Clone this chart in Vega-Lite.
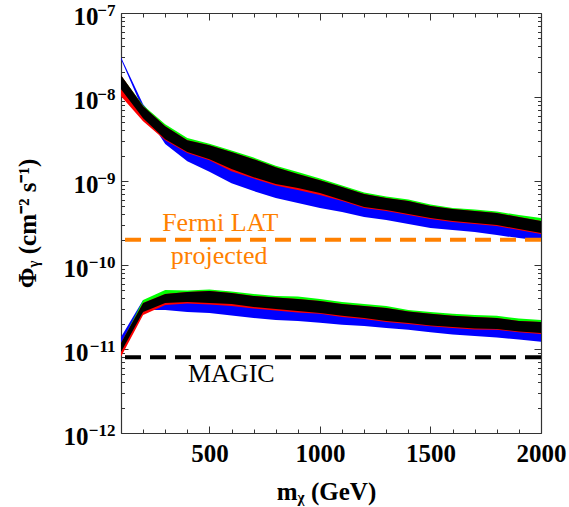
{
  "$schema": "https://vega.github.io/schema/vega-lite/v6.json",
  "width": 420,
  "height": 420,
  "autosize": "none",
  "padding": {"left": 121, "top": 13, "right": 28, "bottom": 74},
  "background": "white",
  "view": {"stroke": null},
  "datasets": {
    "bands": [
      {"grp": "upper", "m": 100, "greenTop": 1.80e-8, "blackTop": 1.82e-8, "blackBot": 1.24e-8, "redBot": 1.02e-8, "blueTop": 2.97e-8, "blueBot": 2.81e-8},
      {"grp": "upper", "m": 200, "greenTop": 7.98e-9, "blackTop": 7.77e-9, "blackBot": 5.60e-9, "redBot": 5.16e-9, "blueTop": 8.21e-9, "blueBot": 6.97e-9},
      {"grp": "upper", "m": 300, "greenTop": 4.75e-9, "blackTop": 4.50e-9, "blackBot": 3.15e-9, "redBot": 3.06e-9, "blueTop": 4.03e-9, "blueBot": 2.75e-9},
      {"grp": "upper", "m": 400, "greenTop": 3.24e-9, "blackTop": 3.06e-9, "blackBot": 2.21e-9, "redBot": 2.15e-9, "blueTop": 2.45e-9, "blueBot": 1.72e-9},
      {"grp": "upper", "m": 500, "greenTop": 2.78e-9, "blackTop": 2.67e-9, "blackBot": 1.82e-9, "redBot": 1.77e-9, "blueTop": 2.03e-9, "blueBot": 1.29e-9},
      {"grp": "upper", "m": 600, "greenTop": 2.30e-9, "blackTop": 2.21e-9, "blackBot": 1.39e-9, "redBot": 1.31e-9, "blueTop": 1.55e-9, "blueBot": 9.4e-10},
      {"grp": "upper", "m": 700, "greenTop": 1.90e-9, "blackTop": 1.82e-9, "blackBot": 1.11e-9, "redBot": 1.07e-9, "blueTop": 1.28e-9, "blueBot": 7.58e-10},
      {"grp": "upper", "m": 800, "greenTop": 1.52e-9, "blackTop": 1.46e-9, "blackBot": 9.19e-10, "redBot": 8.82e-10, "blueTop": 1.02e-9, "blueBot": 6.26e-10},
      {"grp": "upper", "m": 900, "greenTop": 1.28e-9, "blackTop": 1.21e-9, "blackBot": 8.23e-10, "redBot": 7.79e-10, "blueTop": 8.94e-10, "blueBot": 5.46e-10},
      {"grp": "upper", "m": 1000, "greenTop": 1.07e-9, "blackTop": 1.02e-9, "blackBot": 7.18e-10, "redBot": 6.80e-10, "blueTop": 7.79e-10, "blueBot": 4.76e-10},
      {"grp": "upper", "m": 1100, "greenTop": 8.82e-10, "blackTop": 8.46e-10, "blackBot": 5.93e-10, "redBot": 5.77e-10, "blueTop": 6.61e-10, "blueBot": 4.27e-10},
      {"grp": "upper", "m": 1200, "greenTop": 7.28e-10, "blackTop": 6.99e-10, "blackBot": 4.90e-10, "redBot": 4.76e-10, "blueTop": 5.46e-10, "blueBot": 3.72e-10},
      {"grp": "upper", "m": 1300, "greenTop": 6.52e-10, "blackTop": 6.26e-10, "blackBot": 4.51e-10, "redBot": 4.39e-10, "blueTop": 5.03e-10, "blueBot": 3.43e-10},
      {"grp": "upper", "m": 1400, "greenTop": 6.01e-10, "blackTop": 5.77e-10, "blackBot": 4.04e-10, "redBot": 3.93e-10, "blueTop": 4.65e-10, "blueBot": 3.07e-10},
      {"grp": "upper", "m": 1500, "greenTop": 5.24e-10, "blackTop": 5.03e-10, "blackBot": 3.62e-10, "redBot": 3.52e-10, "blueTop": 4.27e-10, "blueBot": 2.75e-10},
      {"grp": "upper", "m": 1600, "greenTop": 4.76e-10, "blackTop": 4.65e-10, "blackBot": 3.34e-10, "redBot": 3.25e-10, "blueTop": 3.93e-10, "blueBot": 2.61e-10},
      {"grp": "upper", "m": 1700, "greenTop": 4.57e-10, "blackTop": 4.39e-10, "blackBot": 3.16e-10, "redBot": 3.07e-10, "blueTop": 3.72e-10, "blueBot": 2.47e-10},
      {"grp": "upper", "m": 1800, "greenTop": 4.33e-10, "blackTop": 4.15e-10, "blackBot": 2.99e-10, "redBot": 2.91e-10, "blueTop": 3.52e-10, "blueBot": 2.27e-10},
      {"grp": "upper", "m": 1900, "greenTop": 3.93e-10, "blackTop": 3.72e-10, "blackBot": 2.68e-10, "redBot": 2.61e-10, "blueTop": 3.25e-10, "blueBot": 2.09e-10},
      {"grp": "upper", "m": 2000, "greenTop": 3.62e-10, "blackTop": 3.34e-10, "blackBot": 2.40e-10, "redBot": 2.34e-10, "blueTop": 2.91e-10, "blueBot": 1.95e-10},
      {"grp": "lower", "m": 100, "greenTop": 1.15e-11, "blackTop": 1.18e-11, "blackBot": 9.24e-12, "redBot": 8.06e-12, "blueTop": 1.39e-11, "blueBot": 9.75e-12},
      {"grp": "lower", "m": 200, "greenTop": 3.84e-11, "blackTop": 3.53e-11, "blackBot": 2.76e-11, "redBot": 2.54e-11, "blueTop": 3.84e-11, "blueBot": 2.92e-11},
      {"grp": "lower", "m": 300, "greenTop": 5.04e-11, "blackTop": 4.52e-11, "blackBot": 3.53e-11, "redBot": 3.34e-11, "blueTop": 3.84e-11, "blueBot": 2.92e-11},
      {"grp": "lower", "m": 400, "greenTop": 4.97e-11, "blackTop": 4.78e-11, "blackBot": 3.63e-11, "redBot": 3.48e-11, "blueTop": 3.63e-11, "blueBot": 2.76e-11},
      {"grp": "lower", "m": 500, "greenTop": 5.11e-11, "blackTop": 4.91e-11, "blackBot": 3.53e-11, "redBot": 3.39e-11, "blueTop": 3.53e-11, "blueBot": 2.69e-11},
      {"grp": "lower", "m": 600, "greenTop": 4.84e-11, "blackTop": 4.65e-11, "blackBot": 3.44e-11, "redBot": 3.26e-11, "blueTop": 3.34e-11, "blueBot": 2.51e-11},
      {"grp": "lower", "m": 700, "greenTop": 4.52e-11, "blackTop": 4.28e-11, "blackBot": 3.17e-11, "redBot": 3.04e-11, "blueTop": 3.17e-11, "blueBot": 2.34e-11},
      {"grp": "lower", "m": 800, "greenTop": 4.28e-11, "blackTop": 4.11e-11, "blackBot": 3.00e-11, "redBot": 2.88e-11, "blueTop": 3.00e-11, "blueBot": 2.22e-11},
      {"grp": "lower", "m": 900, "greenTop": 4.22e-11, "blackTop": 3.94e-11, "blackBot": 2.84e-11, "redBot": 2.72e-11, "blueTop": 2.84e-11, "blueBot": 2.16e-11},
      {"grp": "lower", "m": 1000, "greenTop": 3.94e-11, "blackTop": 3.73e-11, "blackBot": 2.69e-11, "redBot": 2.62e-11, "blueTop": 2.69e-11, "blueBot": 2.06e-11},
      {"grp": "lower", "m": 1100, "greenTop": 3.63e-11, "blackTop": 3.44e-11, "blackBot": 2.48e-11, "redBot": 2.41e-11, "blueTop": 2.54e-11, "blueBot": 1.94e-11},
      {"grp": "lower", "m": 1200, "greenTop": 3.44e-11, "blackTop": 3.26e-11, "blackBot": 2.34e-11, "redBot": 2.28e-11, "blueTop": 2.41e-11, "blueBot": 1.88e-11},
      {"grp": "lower", "m": 1300, "greenTop": 3.26e-11, "blackTop": 3.08e-11, "blackBot": 2.16e-11, "redBot": 2.10e-11, "blueTop": 2.22e-11, "blueBot": 1.78e-11},
      {"grp": "lower", "m": 1400, "greenTop": 2.92e-11, "blackTop": 2.80e-11, "blackBot": 2.04e-11, "redBot": 1.99e-11, "blueTop": 2.10e-11, "blueBot": 1.69e-11},
      {"grp": "lower", "m": 1500, "greenTop": 2.76e-11, "blackTop": 2.62e-11, "blackBot": 1.91e-11, "redBot": 1.86e-11, "blueTop": 1.94e-11, "blueBot": 1.58e-11},
      {"grp": "lower", "m": 1600, "greenTop": 2.62e-11, "blackTop": 2.48e-11, "blackBot": 1.83e-11, "redBot": 1.78e-11, "blueTop": 1.83e-11, "blueBot": 1.49e-11},
      {"grp": "lower", "m": 1700, "greenTop": 2.54e-11, "blackTop": 2.41e-11, "blackBot": 1.76e-11, "redBot": 1.71e-11, "blueTop": 1.76e-11, "blueBot": 1.43e-11},
      {"grp": "lower", "m": 1800, "greenTop": 2.48e-11, "blackTop": 2.34e-11, "blackBot": 1.73e-11, "redBot": 1.69e-11, "blueTop": 1.73e-11, "blueBot": 1.37e-11},
      {"grp": "lower", "m": 1900, "greenTop": 2.31e-11, "blackTop": 2.16e-11, "blackBot": 1.62e-11, "redBot": 1.58e-11, "blueTop": 1.62e-11, "blueBot": 1.30e-11},
      {"grp": "lower", "m": 2000, "greenTop": 2.22e-11, "blackTop": 2.10e-11, "blackBot": 1.55e-11, "redBot": 1.51e-11, "blueTop": 1.55e-11, "blueBot": 1.22e-11}
    ]
  },
  "resolve": {"axis": {"x": "independent", "y": "independent"}},
  "layer": [
    {
      "data": {"name": "bands"},
      "mark": {"type": "area", "color": "#0000FF", "interpolate": "linear"},
      "encoding": {
        "x": {
          "field": "m", "type": "quantitative",
          "scale": {"domain": [100, 2000], "nice": false, "zero": false},
          "axis": {
            "orient": "bottom",
            "values": [100, 200, 300, 400, 500, 600, 700, 800, 900, 1000, 1100, 1200, 1300, 1400, 1500, 1600, 1700, 1800, 1900, 2000],
            "format": "d",
            "labelExpr": "datum.value % 500 == 0 ? datum.label : ''",
            "tickSize": {"condition": {"test": "datum.value % 500 == 0", "value": -7}, "value": -4},
            "grid": false,
            "labelOverlap": false,
            "labelFlush": false,
            "labelFont": "Liberation Serif",
            "labelFontWeight": "bold",
            "labelFontSize": 25,
            "labelColor": "black",
            "labelPadding": 15,
            "domainColor": "#333333",
            "domainWidth": 1.2,
            "tickColor": "#333333",
            "tickWidth": 1,
            "title": "mᵪ (GeV)",
            "titleFont": "Liberation Serif",
            "titleFontWeight": "bold",
            "titleFontSize": 25,
            "titleColor": "black",
            "titleX": 205,
            "titleY": 66,
            "titleAlign": "center",
            "titleBaseline": "alphabetic"
          }
        },
        "y": {
          "field": "blueTop", "type": "quantitative", "stack": null,
          "scale": {"type": "log", "domain": [1e-12, 1e-7], "nice": false},
          "axis": {
            "orient": "left",
            "values": [1e-12, 2e-12, 3e-12, 4e-12, 5e-12, 6e-12, 7e-12, 8e-12, 9e-12, 1e-11, 2e-11, 3e-11, 4e-11, 5e-11, 6e-11, 7e-11, 8e-11, 9e-11, 1e-10, 2e-10, 3e-10, 4e-10, 5e-10, 6e-10, 7e-10, 8e-10, 9e-10, 1e-9, 2e-9, 3e-9, 4e-9, 5e-9, 6e-9, 7e-9, 8e-9, 9e-9, 1e-8, 2e-8, 3e-8, 4e-8, 5e-8, 6e-8, 7e-8, 8e-8, 9e-8, 1e-7],
            "labelExpr": "indexof([1e-12, 1e-11, 1e-10, 1e-9, 1e-8, 1e-7], datum.value) >= 0 ? '10' : ''",
            "tickSize": {"condition": {"test": "indexof([1e-12, 1e-11, 1e-10, 1e-9, 1e-8, 1e-7], datum.value) >= 0", "value": -7}, "value": -3.5},
            "labelPadding": {"condition": {"test": "datum.value <= 1e-10", "value": 40}, "value": 30},
            "labelOffset": 3,
            "grid": false,
            "labelOverlap": false,
            "labelFlush": false,
            "labelFont": "Liberation Serif",
            "labelFontWeight": "bold",
            "labelFontSize": 25,
            "labelColor": "black",
            "domainColor": "#333333",
            "domainWidth": 1.2,
            "tickColor": "#333333",
            "tickWidth": 1,
            "title": "Φᵧ (cm⁻² s⁻¹)",
            "titleFont": "Liberation Serif",
            "titleFontWeight": "bold",
            "titleFontSize": 25,
            "titleColor": "black",
            "titleAngle": -90,
            "titleX": -94,
            "titleY": 210,
            "titleAlign": "center",
            "titleBaseline": "middle"
          }
        },
        "y2": {"field": "blueBot"},
        "detail": {"field": "grp"}
      }
    },
    {
      "data": {"name": "bands"},
      "mark": {"type": "area", "color": "#00FF00", "interpolate": "linear"},
      "encoding": {
        "x": {"field": "m", "type": "quantitative", "axis": null},
        "y": {
          "field": "greenTop", "type": "quantitative", "stack": null,
          "axis": {
            "orient": "left",
            "values": [1e-12, 1e-11, 1e-10, 1e-9, 1e-8, 1e-7],
            "labelExpr": "datum.value == 1e-7 ? '−7' : datum.value == 1e-8 ? '−8' : datum.value == 1e-9 ? '−9' : datum.value == 1e-10 ? '−10' : datum.value == 1e-11 ? '−11' : '−12'",
            "ticks": false,
            "domain": false,
            "grid": false,
            "title": null,
            "labelOverlap": false,
            "labelFlush": false,
            "labelPadding": 6,
            "labelOffset": -3,
            "labelFont": "Liberation Serif",
            "labelFontWeight": "bold",
            "labelFontSize": 17,
            "labelColor": "black"
          }
        },
        "y2": {"field": "blackBot"},
        "detail": {"field": "grp"}
      }
    },
    {
      "data": {"name": "bands"},
      "mark": {"type": "area", "color": "#FF0000", "interpolate": "linear"},
      "encoding": {
        "x": {"field": "m", "type": "quantitative", "axis": null},
        "y": {"field": "blackTop", "type": "quantitative", "stack": null, "axis": null},
        "y2": {"field": "redBot"},
        "detail": {"field": "grp"}
      }
    },
    {
      "data": {"name": "bands"},
      "mark": {"type": "area", "color": "#000000", "interpolate": "linear"},
      "encoding": {
        "x": {
          "field": "m", "type": "quantitative",
          "axis": {
            "orient": "top",
            "values": [100, 200, 300, 400, 500, 600, 700, 800, 900, 1000, 1100, 1200, 1300, 1400, 1500, 1600, 1700, 1800, 1900, 2000],
            "labels": false,
            "title": null,
            "grid": false,
            "tickSize": {"condition": {"test": "datum.value % 500 == 0", "value": -7}, "value": -4},
            "domainColor": "#333333",
            "domainWidth": 1.2,
            "tickColor": "#333333",
            "tickWidth": 1
          }
        },
        "y": {
          "field": "blackTop", "type": "quantitative", "stack": null,
          "axis": {
            "orient": "right",
            "values": [1e-12, 2e-12, 3e-12, 4e-12, 5e-12, 6e-12, 7e-12, 8e-12, 9e-12, 1e-11, 2e-11, 3e-11, 4e-11, 5e-11, 6e-11, 7e-11, 8e-11, 9e-11, 1e-10, 2e-10, 3e-10, 4e-10, 5e-10, 6e-10, 7e-10, 8e-10, 9e-10, 1e-9, 2e-9, 3e-9, 4e-9, 5e-9, 6e-9, 7e-9, 8e-9, 9e-9, 1e-8, 2e-8, 3e-8, 4e-8, 5e-8, 6e-8, 7e-8, 8e-8, 9e-8, 1e-7],
            "labels": false,
            "title": null,
            "grid": false,
            "tickSize": {"condition": {"test": "indexof([1e-12, 1e-11, 1e-10, 1e-9, 1e-8, 1e-7], datum.value) >= 0", "value": -7}, "value": -3.5},
            "domainColor": "#333333",
            "domainWidth": 1.2,
            "tickColor": "#333333",
            "tickWidth": 1
          }
        },
        "y2": {"field": "blackBot"},
        "detail": {"field": "grp"}
      }
    },
    {
      "data": {"values": [{"flux": 2e-10}]},
      "mark": {"type": "rule", "color": "#FF8000", "strokeWidth": 4, "strokeDash": [16, 9]},
      "encoding": {"y": {"field": "flux", "type": "quantitative", "axis": null}}
    },
    {
      "data": {"values": [{"flux": 8e-12}]},
      "mark": {"type": "rule", "color": "#000000", "strokeWidth": 4, "strokeDash": [16, 9]},
      "encoding": {"y": {"field": "flux", "type": "quantitative", "axis": null}}
    },
    {
      "data": {"values": [{"m": 549, "flux": 3.16e-10, "label": "Fermi LAT"}, {"m": 544, "flux": 1.28e-10, "label": "projected"}]},
      "mark": {"type": "text", "color": "#FF8000", "font": "Liberation Serif", "fontSize": 26, "align": "center", "baseline": "middle"},
      "encoding": {
        "x": {"field": "m", "type": "quantitative", "axis": null},
        "y": {"field": "flux", "type": "quantitative", "axis": null},
        "text": {"field": "label"}
      }
    },
    {
      "data": {"values": [{"m": 599, "flux": 5.06e-12, "label": "MAGIC"}]},
      "mark": {"type": "text", "color": "#000000", "font": "Liberation Serif", "fontSize": 26, "align": "center", "baseline": "middle"},
      "encoding": {
        "x": {"field": "m", "type": "quantitative", "axis": null},
        "y": {"field": "flux", "type": "quantitative", "axis": null},
        "text": {"field": "label"}
      }
    }
  ]
}
